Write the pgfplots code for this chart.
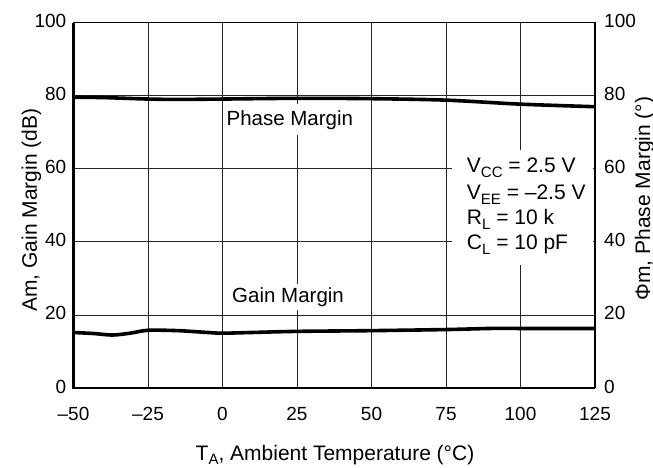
\documentclass[border=0pt]{standalone}
\usepackage{fontspec}
\setmainfont{Liberation Sans}
\usepackage{pgfplots}
\pgfplotsset{compat=1.18}
\newcommand\sub[1]{\raisebox{-0.2em}{\fontsize{15}{15}\selectfont #1}}
\begin{document}
\fontsize{21}{25}\selectfont
\begin{tikzpicture}
\begin{axis}[at={(0,0)}, anchor=south west, scale only axis,
  width=521.5pt, height=365.3pt,
  xmin=-50, xmax=125, ymin=0, ymax=100,
  xtick={-50,-25,0,25,50,75,100,125},
  xticklabels={–50,–25,0,25,50,75,100,125},
  ytick={0,20,40,60,80,100},
  grid=major, grid style={black!85, line width=0.8pt},
  axis line style={black, line width=1pt},
  major tick length=0pt,
  /pgf/number format/assume math mode=true,
  ticklabel style={font=\fontsize{19}{23}\selectfont},
  xticklabel style={yshift=-12pt},
  yticklabel style={yshift=1.5pt},
  clip=false,
]
\addplot[black, line width=3.6pt, smooth] coordinates {
  (-50,79.6) (-40,79.5) (-25,79.1) (-15,79.0) (0,79.1) (25,79.3) (50,79.2) (75,78.8) (100,77.7) (125,77.0)
};
\addplot[black, line width=3.6pt, smooth] coordinates {
  (-50,15.2) (-43,14.9) (-37,14.5) (-31,15.0) (-25,15.8) (-15,15.7) (-5,15.2) (0,15.0) (10,15.2) (25,15.5) (50,15.7) (75,16.0) (90,16.3) (100,16.3) (125,16.3)
};
\node[fill=white, inner xsep=3pt, inner ysep=6pt, font=\fontsize{20.5}{24}\selectfont] at (axis cs:22.6,73.4) {Phase Margin};
\node[fill=white, inner xsep=3pt, inner ysep=3pt, font=\fontsize{20.5}{24}\selectfont] at (axis cs:22,24.9) {Gain Margin};
\fill[white] (axis cs:77.0,65.15) rectangle (axis cs:124.2,33.7);
\node[anchor=base west, inner sep=0pt] at (axis cs:81.95,58.86) {V\sub{CC} = 2.5 V};
\node[anchor=base west, inner sep=0pt] at (axis cs:81.95,51.47) {V\sub{EE} = –2.5 V};
\node[anchor=base west, inner sep=0pt] at (axis cs:81.95,44.62) {R\sub{L} = 10 k};
\node[anchor=base west, inner sep=0pt] at (axis cs:81.95,37.78) {C\sub{L} = 10 pF};
\draw[black, line width=2.6pt] (rel axis cs:0,1) -- (rel axis cs:0,0) -- (rel axis cs:1,0);
\draw[black, line width=1.8pt] (rel axis cs:1,0) -- (rel axis cs:1,1);
\end{axis}
\begin{axis}[at={(0,0)}, anchor=south west, scale only axis,
  width=521.5pt, height=365.3pt,
  xmin=-50, xmax=125, ymin=0, ymax=100,
  hide x axis, axis y line*=right,
  axis line style={draw=none},
  ytick={0,20,40,60,80,100},
  major tick length=0pt,
  /pgf/number format/assume math mode=true,
  ticklabel style={font=\fontsize{19}{23}\selectfont},
  yticklabel style={yshift=1.5pt, xshift=2pt},
]
\addplot[draw=none] coordinates {(0,0)};
\end{axis}
\node[rotate=90, anchor=base, inner sep=0pt] at (-36.5pt,178pt) {Am, Gain Margin (dB)};
\node[rotate=90, anchor=base, inner sep=0pt] at (576.5pt,189.5pt) {Φm, Phase Margin (°)};
\node[anchor=base, inner sep=0pt] at (261.5pt,-72.5pt) {T\sub{A}, Ambient Temperature (°C)};
\pgfresetboundingbox
\path (-73.5pt,-80pt) rectangle (579.5pt,388pt);
\end{tikzpicture}
\end{document}
